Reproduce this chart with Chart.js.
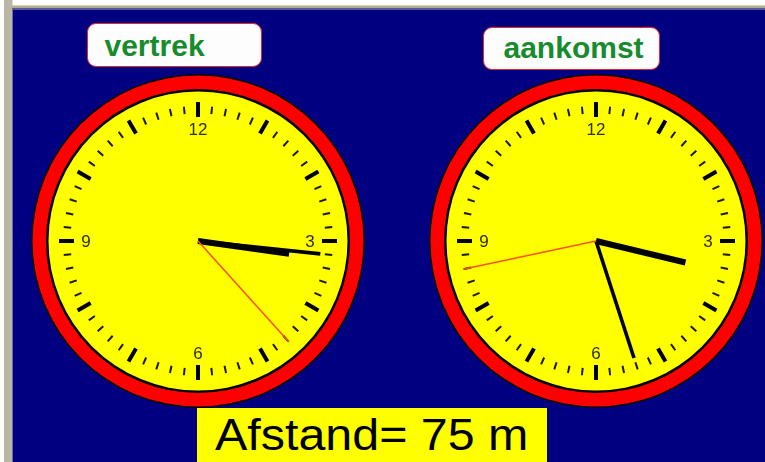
<!DOCTYPE html>
<html>
<head>
<meta charset="utf-8">
<script src="https://cdn.jsdelivr.net/npm/chart.js@4.4.0/dist/chart.umd.min.js"></script>
<style>
html,body{margin:0;padding:0;background:#fff;width:765px;height:462px;overflow:hidden;}
#wrap{position:relative;width:765px;height:462px;}
#c{position:absolute;left:0;top:0;}
.lbl{position:absolute;box-sizing:border-box;background:#fdfdfd;border:1.5px solid #e8242c;border-radius:9px;}
.lbl span{position:absolute;font:bold 30px "Liberation Sans",Arial,sans-serif;color:#178b2d;line-height:30px;white-space:nowrap;}
#dist{position:absolute;left:197px;top:408px;width:350px;height:54px;background:#ffff00;}
#dist span{position:absolute;left:18px;top:4.8px;font:44px "Liberation Sans",Arial,sans-serif;line-height:44px;color:#000;white-space:nowrap;transform:scaleX(1.1);transform-origin:0 0;}
</style>
</head>
<body>
<div id="wrap">
<canvas id="c" width="765" height="462"></canvas>
</div>
<script>
// ---- data ----
const clockNames = ['vertrek', 'aankomst'];
const hourValues = [3, 3];
const minuteValues = [16, 27];
const secondValues = [23, 43];
const dialNumbers = ['12', '3', '6', '9'];
const distanceLabel = 'Afstand=';
const distanceValue = 75;
const distanceUnit = 'm';

// ---- layout ----
const CENTERS = [{x:198, y:241}, {x:596, y:241}];
const LABEL_BOXES = [
  {left:87, top:23, w:175, h:44, tx:16.5, ty:7.1},
  {left:483, top:27, w:177, h:43, tx:19.5, ty:5.1}
];
const R = {outerBlack:167, red:165.5, innerBlack:152, face:149.5,
  majorIn:124, majorOut:139, minorIn:127.5, minorOut:135, num:112,
  hour:92, minute:123, second:136};

function polar(c, deg, r){
  const a = deg*Math.PI/180;
  return {x: c.x + r*Math.sin(a), y: c.y - r*Math.cos(a)};
}
const GAP = {x: NaN, y: NaN};

const datasets = [];
CENTERS.forEach((c, i) => {
  const h = hourValues[i], m = minuteValues[i], s = secondValues[i];
  const hourDeg = (h % 12) * 30 + m * 0.5;
  const minDeg = m * 6;
  const secDeg = s * 6;
  const line = (data, color, width, order) => ({
    data, borderColor: color, backgroundColor: color, borderWidth: width,
    showLine: true, pointRadius: 0, pointHoverRadius: 0, borderCapStyle: 'butt',
    spanGaps: false, order
  });
  datasets.push(line([c, polar(c, secDeg, R.second)], '#ff5200', 1.6, 1));
  datasets.push(line([c, polar(c, minDeg, R.minute)], '#000', 3.6, 2));
  datasets.push(line([c, polar(c, hourDeg, R.hour)], '#000', 6, 3));
  const major = [], minor = [];
  for (let k = 0; k < 60; k++) {
    if (k % 5 === 0) major.push(polar(c, k*6, R.majorIn), polar(c, k*6, R.majorOut), GAP);
    else minor.push(polar(c, k*6, R.minorIn), polar(c, k*6, R.minorOut), GAP);
  }
  datasets.push(line(major, '#000', 4, 4));
  datasets.push(line(minor, '#1a1a00', 2, 5));
});

const facePlugin = {
  id: 'faces',
  beforeDraw(chart) {
    const ctx = chart.ctx;
    ctx.save();
    ctx.fillStyle = '#fff'; ctx.fillRect(0, 0, 765, 462);
    ctx.fillStyle = '#bab6a6'; ctx.fillRect(4, 0, 8.5, 462);
    ctx.fillStyle = '#b4ac88'; ctx.fillRect(12, 5.5, 753, 2.5);
    ctx.fillStyle = '#5a5890'; ctx.fillRect(12, 8, 753, 1.5);
    ctx.fillStyle = '#000080'; ctx.fillRect(12.5, 9.5, 753, 453);
    ctx.restore();
  },
  beforeDatasetsDraw(chart) {
    const ctx = chart.ctx, xs = chart.scales.x, ys = chart.scales.y;
    const px = v => xs.getPixelForValue(v), py = v => ys.getPixelForValue(v);
    ctx.save();
    CENTERS.forEach(c => {
      const cx = px(c.x), cy = py(c.y);
      const rad = r => px(c.x + r) - cx;
      [[R.outerBlack, '#000'], [R.red, '#ff0000'], [R.innerBlack, '#000'], [R.face, '#ffff00']].forEach(([r, col]) => {
        ctx.beginPath(); ctx.arc(cx, cy, rad(r), 0, Math.PI*2); ctx.fillStyle = col; ctx.fill();
      });
      ctx.fillStyle = '#2e2e10';
      ctx.font = '17px "Liberation Sans", Arial, sans-serif';
      ctx.textAlign = 'center'; ctx.textBaseline = 'middle';
      dialNumbers.forEach(n => {
        const p = polar(c, (Number(n) % 12) * 30, R.num);
        ctx.fillText(n, px(p.x), py(p.y) + 1);
      });
    });
    ctx.restore();
  }
};

new Chart(document.getElementById('c'), {
  type: 'scatter',
  data: { datasets },
  options: {
    responsive: false, animation: false, events: [],
    layout: { padding: 0 },
    plugins: { legend: { display: false }, tooltip: { enabled: false } },
    scales: {
      x: { type: 'linear', min: 0, max: 765, display: false },
      y: { type: 'linear', min: 0, max: 462, reverse: true, display: false }
    }
  },
  plugins: [facePlugin]
});

// ---- text labels ----
const wrap = document.getElementById('wrap');
clockNames.forEach((name, i) => {
  const b = LABEL_BOXES[i];
  const d = document.createElement('div');
  d.className = 'lbl';
  d.style.left = b.left + 'px'; d.style.top = b.top + 'px';
  d.style.width = b.w + 'px'; d.style.height = b.h + 'px';
  const s = document.createElement('span');
  s.textContent = name; s.style.left = b.tx + 'px'; s.style.top = b.ty + 'px';
  d.appendChild(s); wrap.appendChild(d);
});
const dist = document.createElement('div');
dist.id = 'dist';
const ds = document.createElement('span');
ds.textContent = distanceLabel + ' ' + distanceValue + ' ' + distanceUnit;
dist.appendChild(ds); wrap.appendChild(dist);
</script>
</body>
</html>
